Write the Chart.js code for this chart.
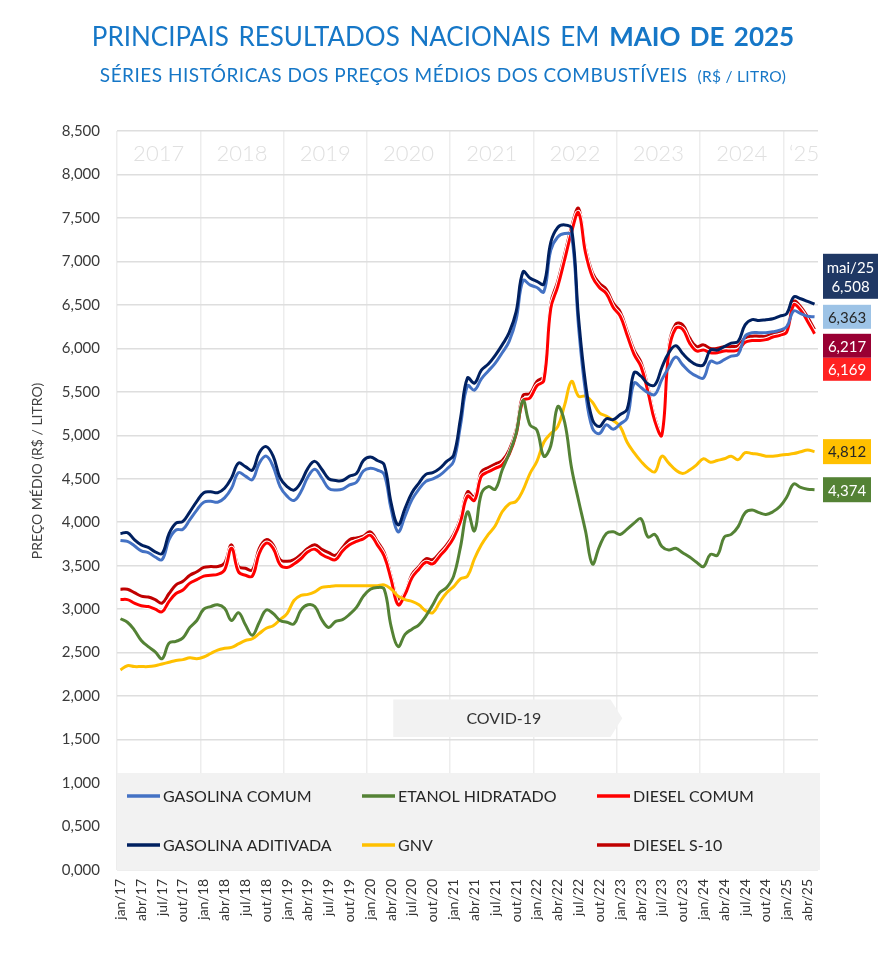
<!DOCTYPE html>
<html><head><meta charset="utf-8">
<script src="https://cdn.jsdelivr.net/npm/chart.js@4.4.1/dist/chart.umd.min.js"></script>
<style>
html,body{margin:0;padding:0;background:#fff;}
#wrap{position:relative;width:886px;height:962px;overflow:hidden;background:#fff;}
canvas{position:absolute;left:0;top:0;}
#title{position:absolute;left:0;top:20px;width:886px;text-align:center;font-family:Lato,sans-serif;font-size:26px;line-height:32px;color:#1677C7;word-spacing:3px;white-space:nowrap;}
#title b{font-weight:700;}
#sub{position:absolute;left:0;top:63px;width:886px;text-align:center;font-family:Lato,sans-serif;font-size:19px;letter-spacing:0.5px;line-height:24px;color:#1677C7;white-space:nowrap;}
#sub span{font-size:15.5px;margin-left:10px;letter-spacing:0.3px;}
</style></head>
<body>
<div id="wrap">
<canvas id="c" width="886" height="962"></canvas>
<div id="title">PRINCIPAIS RESULTADOS NACIONAIS EM <b>MAIO DE 2025</b></div>
<div id="sub">SÉRIES HISTÓRICAS DOS PREÇOS MÉDIOS DOS COMBUSTÍVEIS<span>(R$ / LITRO)</span></div>
</div>
<script>
const months = [
 'jan/17','fev/17','mar/17','abr/17','mai/17','jun/17','jul/17','ago/17','set/17','out/17','nov/17','dez/17',
 'jan/18','fev/18','mar/18','abr/18','mai/18','jun/18','jul/18','ago/18','set/18','out/18','nov/18','dez/18',
 'jan/19','fev/19','mar/19','abr/19','mai/19','jun/19','jul/19','ago/19','set/19','out/19','nov/19','dez/19',
 'jan/20','fev/20','mar/20','abr/20','mai/20','jun/20','jul/20','ago/20','set/20','out/20','nov/20','dez/20',
 'jan/21','fev/21','mar/21','abr/21','mai/21','jun/21','jul/21','ago/21','set/21','out/21','nov/21','dez/21',
 'jan/22','fev/22','mar/22','abr/22','mai/22','jun/22','jul/22','ago/22','set/22','out/22','nov/22','dez/22',
 'jan/23','fev/23','mar/23','abr/23','mai/23','jun/23','jul/23','ago/23','set/23','out/23','nov/23','dez/23',
 'jan/24','fev/24','mar/24','abr/24','mai/24','jun/24','jul/24','ago/24','set/24','out/24','nov/24','dez/24',
 'jan/25','fev/25','mar/25','abr/25','mai/25'];

const yearLabels = ['2017','2018','2019','2020','2021','2022','2023','2024','\u201825'];

const gasolinaComum = [
 3.79,3.78,3.73,3.67,3.65,3.60,3.57,3.80,3.91,3.92,4.03,4.14,
 4.23,4.24,4.23,4.28,4.39,4.57,4.53,4.49,4.68,4.76,4.64,4.41,
 4.30,4.25,4.35,4.52,4.61,4.51,4.39,4.37,4.38,4.43,4.46,4.59,
 4.62,4.60,4.55,4.15,3.89,4.07,4.26,4.38,4.47,4.50,4.54,4.61,
 4.70,5.12,5.57,5.52,5.65,5.74,5.83,5.95,6.08,6.33,6.78,6.73,
 6.70,6.65,7.13,7.28,7.32,7.30,6.25,5.50,5.08,5.02,5.12,5.07,
 5.13,5.20,5.60,5.55,5.49,5.47,5.64,5.78,5.90,5.81,5.73,5.68,
 5.66,5.85,5.83,5.87,5.91,5.93,6.14,6.18,6.18,6.18,6.19,6.21,
 6.25,6.43,6.40,6.37,6.363];

const gasolinaAditivada = [
 3.87,3.88,3.80,3.74,3.71,3.66,3.64,3.87,3.99,4.01,4.12,4.24,
 4.34,4.35,4.34,4.39,4.51,4.68,4.64,4.60,4.80,4.87,4.76,4.51,
 4.41,4.37,4.46,4.62,4.70,4.61,4.50,4.48,4.48,4.53,4.56,4.71,
 4.75,4.71,4.66,4.22,3.97,4.16,4.34,4.45,4.55,4.57,4.62,4.70,
 4.77,5.20,5.66,5.60,5.75,5.82,5.92,6.04,6.18,6.42,6.88,6.81,
 6.77,6.74,7.22,7.39,7.42,7.38,6.35,5.60,5.18,5.10,5.19,5.18,
 5.24,5.30,5.72,5.68,5.59,5.58,5.78,5.95,6.03,5.94,5.86,5.81,
 5.81,5.98,5.98,6.02,6.06,6.08,6.27,6.33,6.32,6.33,6.34,6.37,
 6.40,6.59,6.57,6.54,6.508];

const etanolHidratado = [
 2.89,2.85,2.76,2.64,2.57,2.51,2.43,2.61,2.63,2.67,2.79,2.87,
 3.00,3.03,3.05,3.01,2.87,2.96,2.82,2.70,2.85,2.99,2.95,2.87,
 2.85,2.83,2.99,3.05,3.03,2.88,2.79,2.86,2.88,2.94,3.02,3.15,
 3.23,3.25,3.23,2.80,2.57,2.71,2.77,2.82,2.92,3.05,3.19,3.25,
 3.38,3.72,4.12,3.90,4.33,4.41,4.38,4.60,4.79,5.02,5.40,5.12,
 5.06,4.76,4.88,5.33,5.15,4.62,4.25,3.90,3.52,3.72,3.87,3.89,
 3.86,3.92,3.99,4.04,3.83,3.86,3.72,3.68,3.70,3.65,3.60,3.54,
 3.49,3.63,3.62,3.83,3.86,3.95,4.11,4.14,4.11,4.09,4.12,4.18,
 4.29,4.44,4.40,4.38,4.374];

const gnv = [
 2.30,2.35,2.34,2.34,2.34,2.35,2.37,2.39,2.41,2.42,2.44,2.43,
 2.45,2.49,2.53,2.55,2.56,2.60,2.64,2.66,2.72,2.78,2.81,2.88,
 2.95,3.10,3.16,3.17,3.20,3.25,3.26,3.27,3.27,3.27,3.27,3.27,
 3.27,3.27,3.28,3.23,3.15,3.11,3.09,3.05,2.98,2.96,3.08,3.19,
 3.26,3.35,3.38,3.58,3.74,3.86,3.96,4.12,4.21,4.24,4.37,4.56,
 4.70,4.92,5.02,5.10,5.35,5.62,5.45,5.45,5.38,5.26,5.22,5.17,
 5.10,4.92,4.80,4.70,4.62,4.58,4.76,4.68,4.60,4.56,4.60,4.66,
 4.73,4.69,4.71,4.73,4.76,4.72,4.80,4.79,4.78,4.76,4.76,4.77,
 4.78,4.79,4.81,4.83,4.812];

const dieselComum = [
 3.11,3.11,3.07,3.04,3.03,3.00,2.97,3.09,3.18,3.22,3.30,3.34,
 3.38,3.39,3.40,3.45,3.70,3.43,3.39,3.38,3.64,3.76,3.70,3.51,
 3.48,3.52,3.58,3.66,3.69,3.63,3.59,3.57,3.67,3.74,3.78,3.81,
 3.85,3.74,3.61,3.34,3.05,3.17,3.36,3.46,3.54,3.52,3.61,3.70,
 3.82,4.01,4.30,4.25,4.53,4.58,4.62,4.66,4.78,5.01,5.40,5.43,
 5.57,5.63,6.46,6.71,7.02,7.34,7.56,7.10,6.82,6.70,6.63,6.47,
 6.37,6.15,5.93,5.79,5.50,5.16,5.00,5.96,6.23,6.22,6.06,5.97,
 5.98,5.95,5.95,5.97,5.97,5.98,6.07,6.09,6.09,6.10,6.13,6.15,
 6.19,6.50,6.44,6.31,6.169];

const dieselS10 = [
 3.23,3.23,3.19,3.15,3.14,3.11,3.07,3.18,3.28,3.32,3.39,3.43,
 3.48,3.49,3.49,3.53,3.74,3.49,3.47,3.45,3.70,3.80,3.74,3.57,
 3.55,3.57,3.63,3.70,3.74,3.69,3.65,3.62,3.71,3.80,3.82,3.84,
 3.89,3.78,3.65,3.38,3.11,3.19,3.40,3.49,3.58,3.57,3.65,3.74,
 3.86,4.05,4.35,4.29,4.58,4.63,4.67,4.71,4.83,5.06,5.46,5.48,
 5.62,5.68,6.52,6.77,7.08,7.40,7.61,7.15,6.87,6.75,6.68,6.52,
 6.42,6.20,5.98,5.84,5.55,5.20,5.03,6.02,6.28,6.27,6.12,6.02,
 6.04,6.00,6.00,6.02,6.02,6.03,6.12,6.14,6.14,6.14,6.17,6.19,
 6.23,6.54,6.48,6.36,6.217];

const seriesNames = ['GASOLINA COMUM','ETANOL HIDRATADO','DIESEL COMUM','GASOLINA ADITIVADA','GNV','DIESEL S-10'];
const lastMonthLabel = 'mai/25';
const covidLabel = 'COVID-19';
const yTitle = 'PREÇO MÉDIO (R$ / LITRO)';

const FONT = 'Lato';
Chart.defaults.font.family = FONT;

function fmt(v){ return v.toFixed(3).replace('.', ','); }

// index 0 is drawn on top
const datasets = [
  {label:'GASOLINA ADITIVADA', data:gasolinaAditivada, borderColor:'#002060', boxColor:'#1F3864', textColor:'#ffffff'},
  {label:'GASOLINA COMUM', data:gasolinaComum, borderColor:'#4472C4', boxColor:'#9DC3E6', textColor:'#262626'},
  {label:'ETANOL HIDRATADO', data:etanolHidratado, borderColor:'#548235', boxColor:'#548235', textColor:'#ffffff'},
  {label:'GNV', data:gnv, borderColor:'#FFC000', boxColor:'#FFC000', textColor:'#262626'},
  {label:'DIESEL COMUM', data:dieselComum, borderColor:'#FF0000', boxColor:'#FF2121', textColor:'#ffffff', halo:true},
  {label:'DIESEL S-10', data:dieselS10, borderColor:'#C00000', boxColor:'#990033', textColor:'#ffffff'}
].map(d => Object.assign({borderWidth:3, pointRadius:0, tension:0.4, fill:false}, d));

function ds(label){ return datasets.find(d => d.label === label); }

const haloPlugin = {
  id:'halo',
  beforeDatasetDraw(chart, args){
    const d = chart.data.datasets[args.index];
    if (!d.halo) return;
    const el = args.meta.dataset;
    if (!el || typeof el.path !== 'function') return;
    const ctx = chart.ctx;
    const p = new Path2D();
    el.path(p);
    ctx.save();
    ctx.lineJoin = 'round';
    ctx.lineCap = 'round';
    ctx.strokeStyle = '#ffffff';
    ctx.lineWidth = 5;
    ctx.stroke(p);
    ctx.restore();
  }
};

const backPlugin = {
  id:'back',
  beforeDatasetsDraw(chart){
    const {ctx, chartArea:a, scales:{x, y}} = chart;
    const n = months.length;
    const cat = (x.getPixelForValue(n-1) - x.getPixelForValue(0)) / (n-1);
    ctx.save();
    ctx.fillStyle = '#E0E0E0';
    ctx.font = '300 22px ' + FONT;
    ctx.textAlign = 'center';
    ctx.textBaseline = 'middle';
    const yMid = (y.getPixelForValue(8.5) + y.getPixelForValue(8.0)) / 2;
    yearLabels.forEach((lab, k) => {
      const s = k*12;
      const e = Math.min(s + 11, n - 1);
      let cx = (x.getPixelForValue(s) + x.getPixelForValue(e)) / 2;
      if (e - s < 11) cx = (x.getPixelForValue(s) + x.getPixelForValue(e) + cat) / 2;
      ctx.fillText(lab, cx, yMid + 1);
    });
    const l = x.getPixelForValue(39.3), r = x.getPixelForValue(70.6), tip = x.getPixelForValue(72.3);
    const t = y.getPixelForValue(1.96), b = y.getPixelForValue(1.53);
    ctx.fillStyle = '#F2F2F2';
    ctx.beginPath();
    ctx.moveTo(l, t); ctx.lineTo(r, t); ctx.lineTo(tip, (t+b)/2); ctx.lineTo(r, b); ctx.lineTo(l, b); ctx.closePath();
    ctx.fill();
    ctx.fillStyle = '#333333';
    ctx.font = '16px ' + FONT;
    ctx.fillText(covidLabel, (l + r)/2 + 2, (t+b)/2 + 1);
    const lt = y.getPixelForValue(1.115);
    ctx.fillStyle = '#F2F2F2';
    ctx.fillRect(a.left, lt, a.right - a.left + 2, a.bottom - lt);
    const colX = [10, 245, 480];
    const rowY = [23, 72];
    ctx.font = '16px ' + FONT;
    ctx.textAlign = 'left';
    seriesNames.forEach((name, i) => {
      const d = ds(name);
      const lx = a.left + colX[i % 3];
      const ly = lt + rowY[Math.floor(i / 3)];
      ctx.strokeStyle = d.borderColor;
      ctx.lineWidth = 3.5;
      ctx.beginPath(); ctx.moveTo(lx, ly); ctx.lineTo(lx + 33, ly); ctx.stroke();
      ctx.fillStyle = '#262626';
      ctx.fillText(name, lx + 36, ly + 1);
    });
    ctx.save();
    ctx.translate(37, 471);
    ctx.rotate(-Math.PI/2);
    ctx.fillStyle = '#404040';
    ctx.font = '14px ' + FONT;
    ctx.textAlign = 'center';
    ctx.fillText(yTitle, 0, 0);
    ctx.restore();
    ctx.restore();
  },
  afterDraw(chart){
    const {ctx, chartArea:a, scales:{y}} = chart;
    const bx = a.right + 5, bw = 48;
    const last = d => d.data[d.data.length - 1];
    ctx.save();
    ctx.textAlign = 'center';
    ctx.textBaseline = 'middle';
    ctx.font = '15px ' + FONT;
    function box(d, top, h, w, lines){
      ctx.fillStyle = d.boxColor;
      ctx.fillRect(bx, top, w, h);
      ctx.fillStyle = d.textColor;
      if (lines.length === 1) ctx.fillText(lines[0], bx + w/2, top + h/2 + 1);
      else { ctx.fillText(lines[0], bx + w/2, top + h*0.30 + 1); ctx.fillText(lines[1], bx + w/2, top + h*0.72 + 1); }
    }
    const gc = ds('GASOLINA COMUM'), ga = ds('GASOLINA ADITIVADA'), s10 = ds('DIESEL S-10'), dc = ds('DIESEL COMUM'), g = ds('GNV'), et = ds('ETANOL HIDRATADO');
    const gcY = y.getPixelForValue(last(gc));
    const gcTop = gcY - 12;
    box(gc, gcTop, 24, bw, [fmt(last(gc))]);
    box(ga, gcTop - 6 - 45, 45, 55, [lastMonthLabel, fmt(last(ga))]);
    box(s10, gcTop + 24 + 5, 24, bw, [fmt(last(s10))]);
    box(dc, gcTop + 24 + 5 + 24, 23, bw, [fmt(last(dc))]);
    box(g, y.getPixelForValue(last(g)) - 12.5, 25, bw, [fmt(last(g))]);
    box(et, y.getPixelForValue(last(et)) - 12.5, 25, bw, [fmt(last(et))]);
    ctx.restore();
  }
};

new Chart(document.getElementById('c'), {
  type:'line',
  data:{labels:months, datasets:datasets},
  options:{
    responsive:false, animation:false, devicePixelRatio:1,
    layout:{padding:{left:0, right:68, top:131, bottom:0}},
    plugins:{legend:{display:false}, tooltip:{enabled:false}, title:{display:false}},
    scales:{
      x:{
        type:'category', offset:true,
        grid:{offset:true, drawTicks:false, lineWidth:1.5,
              color:c => (c.index % 12 === 0 && c.index < months.length) ? '#EDEDED' : 'rgba(0,0,0,0)'},
        border:{display:false},
        ticks:{autoSkip:false, minRotation:90, maxRotation:90, padding:9, color:'#333333',
               font:{family:FONT, size:14},
               callback:(v, i) => (i % 3 === 0 ? months[i] : '')},
        afterFit:s => { s.height = 92; }
      },
      y:{
        min:0, max:8.5,
        ticks:{stepSize:0.5, padding:17, color:'#3A3A3A', font:{family:FONT, size:15}, callback:v => fmt(v)},
        grid:{color:'#DEDEDE', lineWidth:1.5, drawTicks:false},
        border:{display:false},
        afterFit:s => { s.width = 117; }
      }
    }
  },
  plugins:[backPlugin, haloPlugin]
});
</script>
</body></html>
